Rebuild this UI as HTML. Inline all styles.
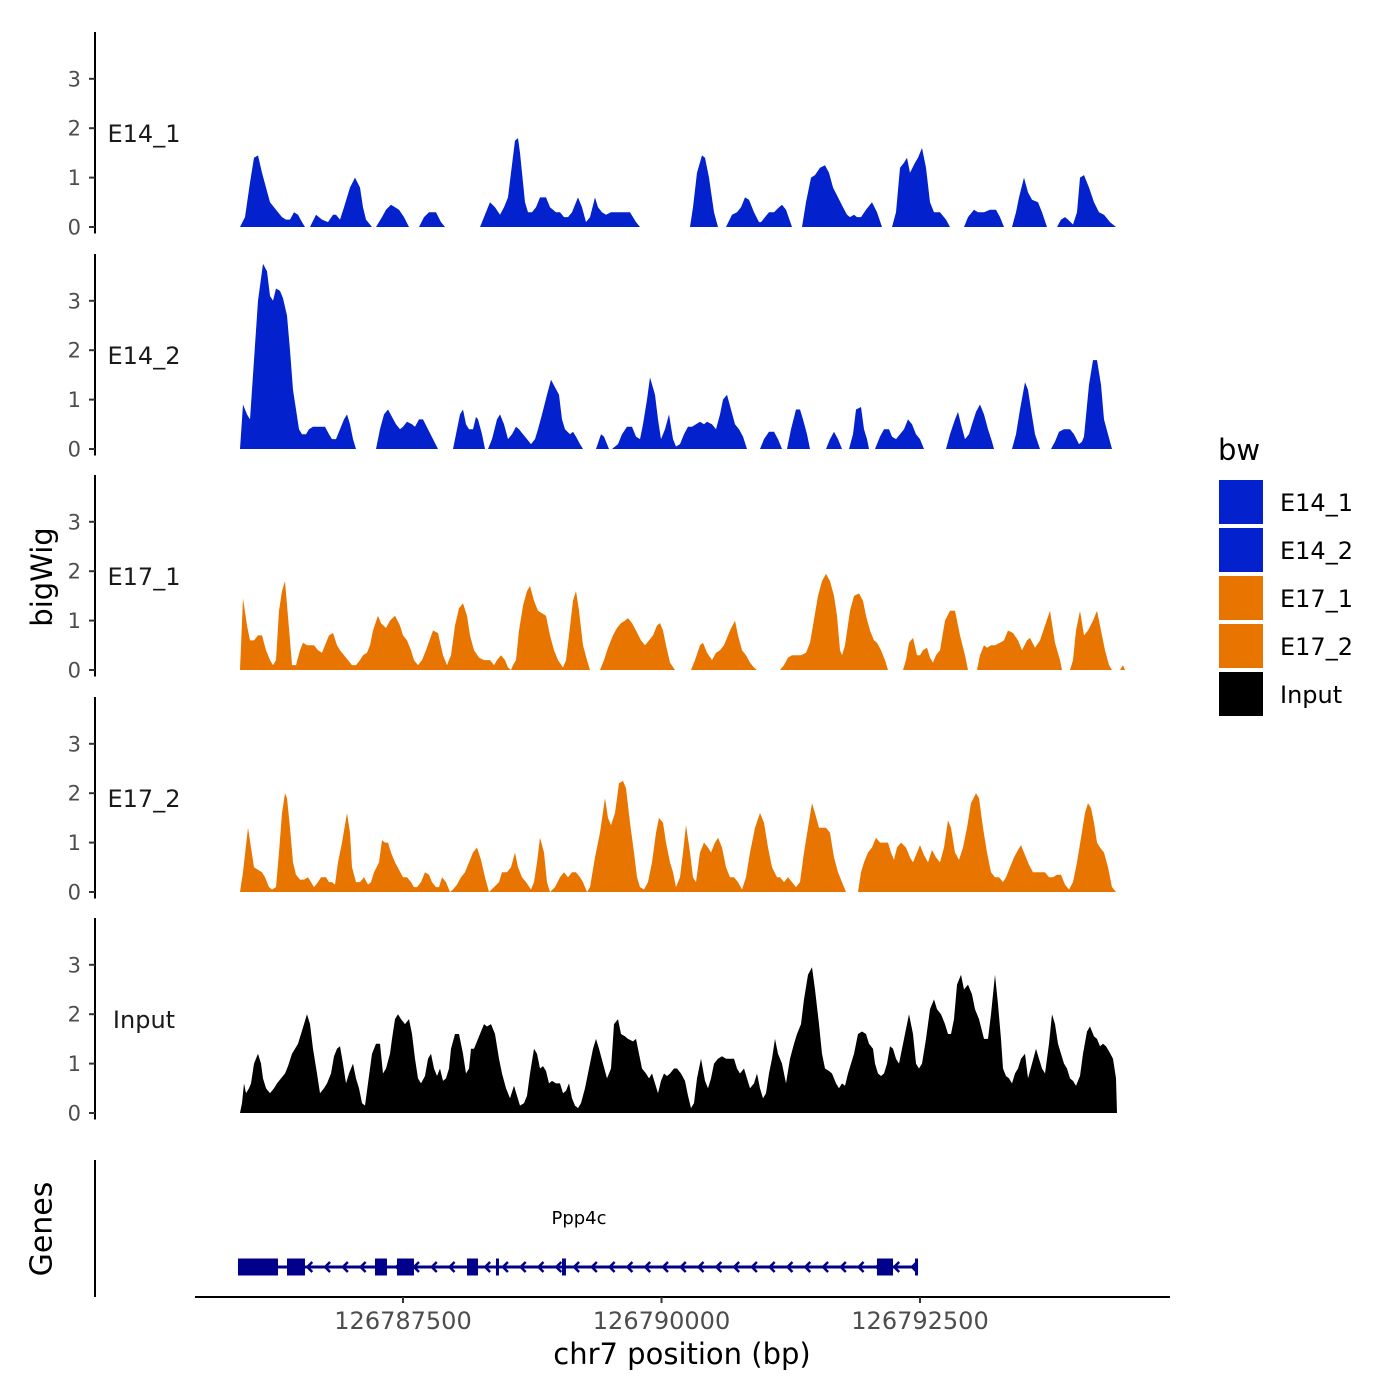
<!DOCTYPE html>
<html><head><meta charset="utf-8">
<style>
body{margin:0;background:#fff}
svg{display:block;font-family:"DejaVu Sans","Liberation Sans",sans-serif}
</style></head>
<body>
<svg id="chart" width="1400" height="1400" viewBox="0 0 1400 1400">
<rect width="1400" height="1400" fill="#fff"/>
<g id="tracks"></g>
<text x="42" y="577" transform="rotate(-90 42 577)" text-anchor="middle" dominant-baseline="central" font-size="29" fill="#000">bigWig</text>
<text x="42" y="1229" transform="rotate(-90 42 1229)" text-anchor="middle" dominant-baseline="central" font-size="30" fill="#000">Genes</text>
<line x1="95" y1="1160" x2="95" y2="1297" stroke="#000" stroke-width="2"/>
<g id="genes"></g>
<line x1="195" y1="1297" x2="1170" y2="1297" stroke="#000" stroke-width="2"/>
<g id="xaxis"></g>
<text x="682" y="1364" text-anchor="middle" font-size="29" fill="#000">chr7 position (bp)</text>
<g id="legend">
<text x="1218" y="460" font-size="29" fill="#000">bw</text>
</g>
</svg>
<script>
const binOrigin = 126785537;
const binWidth = 9.671;
const trackNames = ["E14_1","E14_2","E17_1","E17_2","Input"];
const trackColors = ["#0321CC","#0321CC","#E87500","#E87500","#000000"];
const yTicks = [0,1,2,3];
const xTicks = [126787500,126790000,126792500];
const xTickLabels = ["126787500","126790000","126792500"];

const e14_1 = [[40,0],[45,0.2],[50,0.9],[54,1.4],[58,1.45],[62,1.1],[66,0.8],[70,0.5],[74,0.4],[78,0.3],[82,0.2],[86,0.15],[90,0.15],[94,0.3],[98,0.25],[102,0.1],[105,0],[110,0],[116,0.25],[122,0.15],[128,0.1],[133,0.25],[136,0.25],[140,0.15],[144,0.4],[150,0.8],[155,1.0],[160,0.8],[163,0.4],[166,0.15],[172,0],[176,0],[182,0.2],[186,0.35],[191,0.45],[195,0.4],[199,0.35],[204,0.2],[209,0],[219,0],[224,0.2],[229,0.3],[236,0.3],[241,0.1],[245,0],[280,0],[284,0.2],[290,0.5],[295,0.4],[300,0.25],[304,0.4],[308,0.6],[311,1.1],[315,1.75],[318,1.8],[320,1.5],[325,0.5],[328,0.3],[332,0.3],[336,0.4],[340,0.6],[346,0.6],[350,0.4],[356,0.3],[360,0.3],[364,0.2],[368,0.2],[372,0.3],[378,0.6],[382,0.4],[386,0.1],[390,0.2],[395,0.6],[398,0.4],[402,0.3],[406,0.25],[411,0.3],[430,0.3],[436,0.1],[440,0],[490,0],[493,0.4],[497,1.1],[502,1.45],[505,1.4],[509,1.0],[514,0.3],[518,0],[526,0],[532,0.25],[537,0.3],[541,0.4],[545,0.6],[549,0.55],[554,0.3],[559,0.1],[561,0.1],[565,0.2],[569,0.3],[574,0.3],[579,0.4],[582,0.45],[586,0.35],[592,0],[602,0],[606,0.5],[611,1.0],[615,1.05],[620,1.2],[625,1.25],[629,1.1],[633,0.8],[638,0.6],[643,0.4],[647,0.25],[650,0.2],[654,0.25],[657,0.2],[661,0.2],[666,0.35],[672,0.5],[677,0.3],[682,0],[692,0],[696,0.3],[700,1.2],[704,1.3],[707,1.4],[710,1.1],[715,1.3],[718,1.4],[722,1.6],[726,1.2],[730,0.5],[734,0.3],[740,0.3],[746,0.15],[750,0],[764,0],[768,0.2],[774,0.35],[778,0.3],[784,0.3],[790,0.35],[796,0.35],[800,0.2],[804,0],[812,0],[816,0.3],[819,0.6],[824,1.0],[828,0.7],[832,0.55],[838,0.5],[842,0.3],[847,0],[857,0],[861,0.15],[865,0.2],[868,0.15],[873,0.05],[877,0.3],[880,1.0],[884,1.05],[889,0.8],[894,0.5],[899,0.3],[904,0.25],[910,0.1],[916,0]];

const e14_2 = [[40,0],[43,0.9],[47,0.7],[50,0.6],[54,1.8],[58,3.0],[63,3.75],[67,3.6],[70,3.1],[73,3.0],[76,3.25],[80,3.2],[83,3.05],[87,2.7],[90,2.0],[93,1.2],[96,0.8],[99,0.4],[102,0.3],[106,0.3],[109,0.4],[113,0.45],[125,0.45],[129,0.3],[132,0.2],[136,0.2],[140,0.4],[144,0.6],[147,0.7],[150,0.5],[153,0.2],[156,0],[176,0],[180,0.4],[184,0.7],[188,0.8],[192,0.65],[196,0.5],[200,0.4],[203,0.45],[207,0.55],[212,0.5],[215,0.45],[219,0.6],[223,0.6],[228,0.4],[233,0.2],[238,0],[253,0],[256,0.3],[260,0.7],[263,0.8],[266,0.5],[269,0.4],[273,0.4],[276,0.65],[278,0.6],[282,0.3],[285,0],[288,0],[292,0.2],[297,0.6],[300,0.7],[304,0.5],[308,0.2],[312,0.3],[316,0.45],[319,0.4],[323,0.3],[327,0.2],[331,0.1],[335,0.2],[338,0.4],[342,0.7],[347,1.1],[351,1.4],[355,1.25],[359,1.1],[362,0.6],[365,0.4],[370,0.3],[373,0.35],[376,0.25],[380,0.1],[383,0],[396,0],[401,0.3],[404,0.25],[409,0],[412,0],[418,0.1],[422,0.3],[427,0.45],[432,0.45],[436,0.25],[440,0.2],[443,0.5],[447,1.0],[450,1.45],[455,1.1],[458,0.6],[461,0.2],[465,0.4],[469,0.7],[473,0.2],[476,0.05],[480,0.1],[484,0.3],[488,0.45],[492,0.45],[496,0.5],[500,0.55],[504,0.5],[507,0.55],[512,0.5],[516,0.4],[520,0.7],[523,1.0],[527,1.1],[531,0.8],[535,0.5],[539,0.4],[543,0.25],[547,0],[560,0],[564,0.2],[569,0.35],[574,0.35],[578,0.2],[582,0],[587,0],[591,0.4],[596,0.8],[600,0.8],[603,0.6],[607,0.3],[610,0],[626,0],[630,0.2],[634,0.35],[638,0.2],[642,0],[649,0],[653,0.3],[656,0.8],[661,0.85],[664,0.4],[667,0.2],[669,0],[675,0],[680,0.25],[684,0.4],[689,0.4],[692,0.25],[696,0.2],[700,0.3],[704,0.4],[708,0.6],[712,0.5],[716,0.3],[720,0.2],[724,0],[746,0],[750,0.3],[755,0.6],[758,0.75],[761,0.5],[765,0.2],[769,0.3],[772,0.5],[776,0.75],[780,0.9],[784,0.7],[788,0.4],[792,0.15],[794,0],[812,0],[816,0.3],[820,0.8],[825,1.35],[828,1.2],[831,0.8],[835,0.3],[840,0],[851,0],[855,0.15],[859,0.35],[864,0.4],[870,0.4],[874,0.3],[879,0.1],[882,0.15],[884,0.25],[889,1.3],[893,1.8],[897,1.8],[901,1.3],[904,0.6],[908,0.3],[912,0]];

const e17_1 = [[40,0],[43,1.45],[47,0.9],[50,0.6],[54,0.6],[58,0.7],[62,0.7],[66,0.4],[70,0.2],[73,0.1],[76,0.2],[79,1.2],[82,1.6],[85,1.8],[90,0.6],[92,0.1],[96,0.1],[100,0.4],[103,0.55],[107,0.5],[114,0.5],[118,0.4],[122,0.35],[125,0.5],[129,0.7],[133,0.75],[137,0.5],[140,0.4],[144,0.3],[148,0.2],[152,0.1],[156,0.1],[160,0.2],[163,0.3],[167,0.35],[170,0.5],[173,0.8],[178,1.1],[181,0.95],[186,0.85],[190,1.0],[195,1.1],[200,0.9],[203,0.7],[207,0.6],[211,0.4],[214,0.2],[218,0.1],[222,0.2],[226,0.4],[233,0.8],[238,0.75],[243,0.3],[247,0.1],[251,0.3],[255,0.9],[259,1.25],[263,1.35],[267,1.1],[270,0.7],[274,0.4],[279,0.25],[284,0.2],[290,0.2],[294,0.1],[297,0.2],[301,0.3],[305,0.2],[308,0.05],[311,0],[313,0.1],[316,0.2],[319,0.8],[323,1.3],[327,1.6],[330,1.7],[334,1.4],[338,1.2],[342,1.15],[346,1.1],[350,0.7],[354,0.4],[358,0.2],[363,0.05],[366,0.2],[369,0.7],[373,1.4],[376,1.6],[379,1.2],[383,0.5],[387,0.2],[390,0],[400,0],[404,0.2],[408,0.45],[413,0.7],[417,0.85],[421,0.95],[425,1.0],[428,1.05],[432,0.95],[436,0.8],[441,0.6],[445,0.5],[449,0.6],[453,0.7],[457,0.9],[460,0.95],[463,0.8],[466,0.5],[470,0.15],[475,0],[491,0],[495,0.2],[500,0.5],[503,0.55],[507,0.35],[512,0.2],[516,0.35],[520,0.4],[524,0.5],[530,0.8],[535,1.0],[538,0.7],[542,0.4],[546,0.3],[550,0.15],[554,0.05],[557,0],[580,0],[584,0.1],[588,0.25],[592,0.3],[601,0.3],[606,0.35],[610,0.55],[613,0.9],[618,1.5],[622,1.8],[626,1.95],[630,1.8],[634,1.5],[637,1.1],[640,0.4],[642,0.3],[645,0.5],[650,1.2],[654,1.5],[659,1.55],[663,1.4],[666,1.1],[670,0.8],[674,0.6],[677,0.55],[681,0.4],[685,0.2],[688,0],[703,0],[706,0.2],[709,0.55],[713,0.65],[717,0.3],[720,0.3],[723,0.4],[727,0.45],[730,0.25],[733,0.15],[736,0.3],[740,0.4],[745,1.0],[750,1.2],[755,1.2],[760,0.7],[765,0.3],[768,0],[777,0],[780,0.3],[784,0.5],[787,0.45],[791,0.5],[795,0.5],[800,0.55],[804,0.6],[808,0.8],[813,0.75],[818,0.6],[822,0.4],[827,0.6],[830,0.65],[835,0.45],[840,0.6],[845,0.9],[850,1.2],[855,0.55],[860,0.2],[862,0],[870,0],[873,0.2],[876,0.8],[880,1.2],[884,0.7],[888,0.8],[893,1.0],[897,1.2],[901,0.8],[905,0.4],[909,0.1],[912,0],[920,0],[923,0.1],[925,0]];

const e17_2 = [[40,0],[43,0.4],[48,1.3],[51,0.9],[54,0.5],[58,0.45],[62,0.4],[65,0.3],[69,0.1],[72,0.05],[76,0.1],[79,0.8],[82,1.6],[85,2.0],[87,1.9],[90,1.3],[93,0.6],[96,0.35],[100,0.25],[104,0.25],[108,0.3],[111,0.2],[114,0.1],[118,0.2],[121,0.3],[126,0.3],[129,0.2],[132,0.2],[135,0.15],[138,0.6],[142,1.0],[147,1.6],[150,1.2],[152,0.5],[156,0.2],[160,0.2],[164,0.3],[168,0.15],[171,0.2],[174,0.4],[179,0.6],[182,1.05],[185,1.0],[188,1.0],[191,0.8],[195,0.6],[199,0.45],[203,0.3],[207,0.3],[211,0.2],[214,0.1],[217,0.1],[221,0.2],[225,0.4],[229,0.35],[232,0.2],[236,0.1],[239,0.1],[242,0.3],[246,0.2],[250,0],[253,0.05],[257,0.15],[261,0.3],[265,0.4],[269,0.6],[273,0.8],[277,0.9],[281,0.65],[285,0.3],[289,0],[294,0.1],[299,0.2],[302,0.4],[307,0.4],[311,0.5],[315,0.8],[318,0.5],[322,0.3],[326,0.2],[331,0.05],[334,0.2],[337,0.6],[340,1.1],[344,0.8],[347,0.2],[350,0],[355,0.1],[360,0.3],[364,0.4],[368,0.3],[372,0.4],[376,0.4],[380,0.3],[383,0.2],[387,0],[390,0.1],[395,0.7],[400,1.2],[405,1.9],[408,1.5],[411,1.35],[415,1.6],[419,2.2],[423,2.25],[426,2.1],[430,1.4],[434,0.8],[437,0.3],[440,0.1],[444,0.05],[448,0.2],[452,0.6],[456,1.2],[459,1.5],[463,1.4],[466,1.0],[470,0.6],[473,0.4],[476,0.1],[480,0.3],[483,0.8],[486,1.35],[490,0.8],[493,0.3],[496,0.2],[500,0.8],[504,1.0],[508,0.9],[511,0.8],[515,1.0],[518,1.1],[522,0.9],[526,0.5],[530,0.3],[534,0.3],[538,0.2],[542,0.05],[546,0.3],[550,0.8],[555,1.3],[560,1.6],[564,1.4],[568,0.9],[572,0.5],[577,0.3],[580,0.3],[584,0.2],[588,0.3],[592,0.2],[596,0.1],[600,0.2],[604,0.8],[608,1.3],[612,1.8],[615,1.6],[619,1.3],[622,1.3],[626,1.3],[630,1.2],[634,0.7],[638,0.4],[642,0.2],[646,0],[658,0],[661,0.4],[664,0.6],[668,0.8],[672,0.9],[676,1.1],[680,1.0],[684,1.0],[688,1.0],[691,0.8],[694,0.65],[697,0.9],[701,1.0],[706,0.9],[710,0.7],[713,0.6],[717,0.8],[720,0.95],[724,0.75],[728,0.6],[732,0.85],[736,0.7],[740,0.6],[744,0.9],[748,1.45],[751,1.3],[755,0.8],[759,0.65],[763,0.9],[767,1.3],[771,1.8],[776,2.0],[779,1.9],[783,1.3],[787,0.8],[791,0.4],[795,0.3],[799,0.3],[803,0.2],[806,0.3],[810,0.5],[814,0.7],[818,0.85],[821,0.95],[825,0.75],[829,0.55],[833,0.4],[837,0.4],[841,0.4],[845,0.4],[849,0.3],[853,0.3],[857,0.35],[861,0.35],[865,0.15],[869,0.05],[873,0.2],[877,0.6],[881,1.1],[885,1.6],[888,1.8],[891,1.7],[894,1.4],[897,1.0],[900,0.9],[904,0.8],[908,0.5],[912,0.1],[916,0]];

const input = [[40,0],[42,0.2],[44,0.6],[46,0.4],[49,0.5],[51,0.6],[54,1.0],[58,1.2],[61,1.0],[63,0.7],[66,0.5],[70,0.4],[74,0.5],[77,0.6],[81,0.7],[85,0.8],[88,0.95],[92,1.2],[95,1.3],[98,1.4],[101,1.6],[104,1.8],[107,2.0],[110,1.8],[113,1.3],[117,0.8],[120,0.4],[124,0.5],[127,0.6],[131,0.8],[134,1.15],[137,1.3],[140,1.35],[143,1.0],[146,0.6],[149,0.8],[153,1.0],[156,0.7],[159,0.5],[162,0.2],[165,0.15],[168,0.6],[172,1.2],[176,1.4],[180,1.4],[183,0.8],[186,0.9],[190,1.2],[192,1.5],[195,1.9],[198,2.0],[201,1.9],[205,1.8],[209,1.9],[212,1.6],[215,1.1],[218,0.7],[221,0.6],[225,0.75],[228,1.1],[231,1.2],[234,0.9],[237,0.75],[240,0.9],[243,0.65],[246,0.7],[249,0.9],[251,1.3],[255,1.6],[259,1.6],[263,1.2],[266,0.8],[269,0.9],[271,1.3],[274,1.3],[277,1.45],[280,1.6],[284,1.8],[287,1.75],[291,1.8],[295,1.6],[299,1.1],[302,0.8],[306,0.5],[310,0.3],[314,0.55],[317,0.35],[320,0.15],[324,0.2],[327,0.35],[330,0.8],[334,1.3],[337,1.2],[340,0.9],[343,0.95],[346,0.85],[349,0.6],[352,0.65],[356,0.6],[360,0.6],[363,0.4],[366,0.45],[369,0.6],[372,0.3],[375,0.15],[378,0.1],[381,0.2],[385,0.5],[389,0.9],[393,1.3],[396,1.5],[399,1.3],[403,1.0],[407,0.7],[411,0.9],[414,1.8],[418,1.9],[421,1.6],[425,1.55],[428,1.5],[433,1.45],[436,1.5],[439,1.2],[442,0.9],[446,0.8],[449,0.7],[452,0.8],[455,0.6],[458,0.4],[461,0.65],[464,0.8],[467,0.75],[470,0.8],[474,0.9],[477,0.9],[481,0.8],[485,0.65],[488,0.35],[491,0.1],[494,0.2],[497,0.7],[501,1.1],[505,0.65],[508,0.5],[511,0.7],[514,1.0],[518,1.1],[522,1.15],[526,1.1],[530,1.1],[534,1.1],[537,0.9],[540,0.8],[544,0.9],[547,0.7],[550,0.5],[554,0.6],[557,0.8],[560,0.5],[563,0.3],[566,0.4],[569,0.8],[572,1.1],[575,1.5],[578,1.2],[582,1.0],[586,0.6],[590,1.1],[594,1.4],[597,1.6],[601,1.8],[604,2.3],[608,2.8],[612,2.95],[615,2.5],[619,1.8],[622,1.2],[625,0.9],[629,0.85],[632,0.8],[636,0.6],[639,0.5],[642,0.6],[645,0.55],[648,0.8],[651,1.0],[654,1.2],[658,1.6],[662,1.65],[666,1.6],[669,1.4],[673,1.3],[675,1.0],[678,0.8],[681,0.75],[684,0.8],[687,1.0],[690,1.35],[693,1.3],[696,1.1],[699,1.0],[702,1.3],[705,1.6],[709,2.0],[713,1.6],[716,1.0],[719,0.9],[722,1.0],[726,1.5],[730,2.1],[734,2.3],[737,2.1],[741,2.0],[745,1.8],[748,1.6],[751,1.6],[754,1.9],[757,2.6],[761,2.8],[764,2.5],[768,2.6],[772,2.4],[775,2.1],[779,1.9],[784,1.5],[788,1.5],[791,2.0],[795,2.8],[798,2.2],[801,1.5],[803,0.9],[806,0.75],[809,0.7],[812,0.6],[815,0.8],[818,0.9],[821,1.1],[825,1.2],[828,0.7],[832,1.0],[836,1.3],[839,1.1],[842,0.9],[845,0.8],[849,1.4],[852,2.0],[855,1.8],[858,1.4],[861,1.2],[864,1.0],[867,0.9],[870,0.7],[873,0.65],[876,0.55],[880,0.75],[883,1.2],[887,1.65],[890,1.75],[894,1.55],[897,1.5],[900,1.35],[903,1.4],[906,1.35],[909,1.25],[913,1.1],[916,0.7],[917,0]];

const trackData = [e14_1, e14_2, e17_1, e17_2, input];

// gene model (bp)
const geneName = "Ppp4c";
const geneStart = 126785904;
const geneEnd = 126792481;
const exonStarts = [126785904,126786378,126787229,126787442,126788119,126788399,126789038,126792084,126792452];
const exonEnds   = [126786291,126786552,126787345,126787606,126788225,126788428,126789076,126792239,126792481];
const exonHeights = [17,17,17,17,17,17,17,17,17];

const NS = "http://www.w3.org/2000/svg";
function mk(tag, attrs, parent){const e=document.createElementNS(NS,tag);for(const k in attrs)e.setAttribute(k,attrs[k]);parent.appendChild(e);return e;}
function binToBp(b){return binOrigin + b*binWidth;}
function xScale(bp){return 403 + (bp-126787500)*(258.5/2500);}
const pxPerUnit = 49.4;
const panelBase = [227,449,670,892,1113];

const tracksG = document.getElementById('tracks');
trackNames.forEach((name, t) => {
  const base = panelBase[t];
  const yS = v => base - v*pxPerUnit;
  const g = mk('g', {}, tracksG);
  
  
  const ax = mk('line', {x1:95, y1:base-195, x2:95, y2:base+6.5, stroke:'#000','stroke-width':2}, g);
  
  
  yTicks.forEach(v => {
    const tk = mk('line', {x1:89, y1:yS(v), x2:95, y2:yS(v), stroke:'#333','stroke-width':2}, g);
    
    
    const tl = mk('text', {x:81, y:yS(v)+7.5, 'text-anchor':'end','font-size':21, fill:'#4d4d4d'}, g);
    tl.textContent = v;
    
    
  });
  const lab = mk('text', {x:144, y:base-85, 'text-anchor':'middle','font-size':24, fill:'#1a1a1a'}, g);
  lab.textContent = name;
  
  
  const pts = trackData[t];
  let d = 'M' + xScale(binToBp(pts[0][0])).toFixed(1) + ',' + base;
  pts.forEach(p => { d += 'L' + xScale(binToBp(p[0])).toFixed(1) + ',' + yS(p[1]).toFixed(1); });
  d += 'L' + xScale(binToBp(pts[pts.length-1][0])).toFixed(1) + ',' + base + 'Z';
  const area = mk('path', {d:d, fill:trackColors[t]}, g);
  
  
});

// genes
const gg = document.getElementById('genes');
const gy = 1267;
const gl = mk('line', {x1:xScale(geneStart), y1:gy, x2:xScale(geneEnd), y2:gy, stroke:'#00008B','stroke-width':3}, gg);


for (let bp = geneStart + 680; bp < geneEnd - 40; bp += 172) {
  const x = xScale(bp);
  const ch = mk('path', {d:`M${x+4},${gy-5}L${x-1},${gy}L${x+4},${gy+5}`, fill:'none', stroke:'#00008B','stroke-width':2.5}, gg);
  
  
}
exonStarts.forEach((s, i) => {
  const x1 = xScale(s), x2 = xScale(exonEnds[i]);
  const r = mk('rect', {x:x1, y:gy-exonHeights[i]/2, width:Math.max(x2-x1,3), height:exonHeights[i], fill:'#00008B'}, gg);
  
  
});
const gn = mk('text', {x:579, y:1224, 'text-anchor':'middle','font-size':18, fill:'#000'}, gg);
gn.textContent = geneName;



// x axis
const xg = document.getElementById('xaxis');
xTicks.forEach((v, i) => {
  const x = xScale(v);
  const tk = mk('line', {x1:x, y1:1297, x2:x, y2:1303, stroke:'#333','stroke-width':2}, xg);
  
  
  const tl = mk('text', {x:x, y:1329, 'text-anchor':'middle','font-size':24, fill:'#4d4d4d'}, xg);
  tl.textContent = xTickLabels[i];
  
  
});

// legend
const lg = document.getElementById('legend');
trackNames.forEach((name, i) => {
  const y = 480 + i*48;
  const r = mk('rect', {x:1219, y:y, width:44, height:44, fill:trackColors[i]}, lg);
  
  
  const t = mk('text', {x:1280, y:y+31, 'font-size':24, fill:'#000'}, lg);
  t.textContent = name;
  
  
});
</script>
</body></html>
